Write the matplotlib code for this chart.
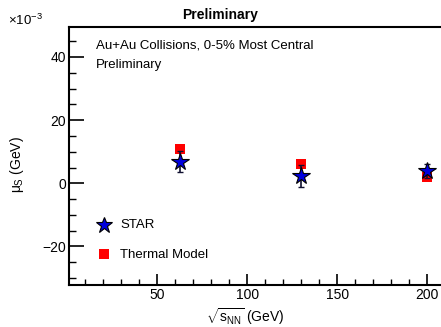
import matplotlib
matplotlib.use("Agg")
import matplotlib.pyplot as plt
from matplotlib.ticker import MultipleLocator

plt.rcParams["font.family"] = ["Liberation Sans", "DejaVu Sans"]
plt.rcParams["mathtext.fontset"] = "custom"
plt.rcParams["mathtext.rm"] = "Liberation Sans"
plt.rcParams["mathtext.it"] = "Liberation Sans"

# sqrt(s_NN) in GeV
energies = [62.4, 130.0, 200.0]
# mu_S in units of 1e-3 GeV
star_mu_s = [6.9, 2.3, 3.8]
star_err = [3.4, 3.4, 2.2]
thermal_mu_s = [11.0, 6.2, 2.1]

fig = plt.figure(figsize=(4.41, 3.27), dpi=100)
ax = fig.add_axes([69 / 441, 1 - 285 / 327, 1 - 69 / 441 + 0.01, (285 - 27) / 327])

ax.errorbar(energies, star_mu_s, yerr=star_err, fmt="none", ecolor="#101030",
            elinewidth=1.2, capsize=2, capthick=1.0, zorder=2)
ax.plot(energies, thermal_mu_s, "s", color="#ff0000", markersize=7, markeredgewidth=0, zorder=1)
ax.plot(energies, star_mu_s, "*", color="#0000dd", markeredgecolor="black",
        markeredgewidth=0.8, markersize=13, zorder=3)

ax.set_xlim(1, 210)
ax.set_ylim(-32.2, 49.5)
ax.xaxis.set_major_locator(MultipleLocator(50))
ax.xaxis.set_minor_locator(MultipleLocator(10))
ax.yaxis.set_major_locator(MultipleLocator(20))
ax.yaxis.set_minor_locator(MultipleLocator(5))
ax.tick_params(which="major", direction="in", length=11, width=1.2, labelsize=10, pad=2)
ax.tick_params(which="minor", direction="in", length=5, width=1.0)
ax.tick_params(axis="x", which="major", length=8)
ax.tick_params(axis="x", which="minor", length=4)
ax.tick_params(top=False, right=False)
for s in ["left", "bottom", "top"]:
    ax.spines[s].set_linewidth(1.5)
ax.spines["right"].set_visible(False)
ax.xaxis.set_major_formatter(plt.FuncFormatter(lambda v, p: f"{v:g}"))
ax.yaxis.set_major_formatter(plt.FuncFormatter(lambda v, p: f"{v:g}".replace("-", "\u2212")))

fig.text(0.5, 1 - 15 / 327, "Preliminary", ha="center", va="center", fontsize=10, fontweight="bold")
fig.text(8 / 441, 1 - 20 / 327, r"$\times$10$^{-3}$", ha="left", va="center", fontsize=9.5)
fig.text(96 / 441, 1 - 46 / 327, "Au+Au Collisions, 0-5% Most Central", ha="left", va="center", fontsize=9.5)
fig.text(96 / 441, 1 - 65 / 327, "Preliminary", ha="left", va="center", fontsize=9.5)

fig.text(17 / 441, 1 - 165 / 327, r"$\mu_{S}$ (GeV)", ha="center", va="center", rotation=90, fontsize=10)
fig.text(245 / 441, 1 - 317 / 327, r"$\sqrt{s_{NN}}$ (GeV)", ha="center", va="center", fontsize=10)

# legend
ax.plot([104 / 441], [1 - 225 / 327], "*", color="#0000dd", markeredgecolor="black",
        markeredgewidth=0.8, markersize=12, transform=fig.transFigure, clip_on=False)
ax.plot([104 / 441], [1 - 254 / 327], "s", color="#ff0000", markersize=7, markeredgewidth=0,
        transform=fig.transFigure, clip_on=False)
fig.text(120 / 441, 1 - 225 / 327, "STAR", ha="left", va="center", fontsize=9.5)
fig.text(120 / 441, 1 - 255 / 327, "Thermal Model", ha="left", va="center", fontsize=9.5)

fig.savefig("out.png", dpi=100)
